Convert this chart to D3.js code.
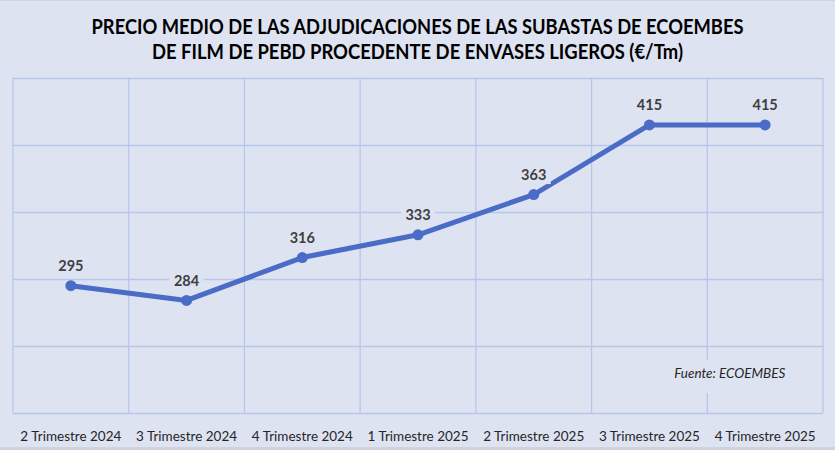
<!DOCTYPE html>
<html>
<head>
<meta charset="utf-8">
<script src="https://cdn.jsdelivr.net/npm/d3@7"></script>
<style>
  body { margin: 0; background: #dee3f2; }
  svg { display: block; }
</style>
</head>
<body>
<div id="chart"></div>
<script>
var categories = ['2 Trimestre 2024', '3 Trimestre 2024', '4 Trimestre 2024', '1 Trimestre 2025',
                  '2 Trimestre 2025', '3 Trimestre 2025', '4 Trimestre 2025'];
var prices = [295, 284, 316, 333, 363, 415, 415];
var yTicks = [200, 250, 300, 350, 400, 450];
var titleLines = ['PRECIO MEDIO DE LAS ADJUDICACIONES DE LAS SUBASTAS DE ECOEMBES',
                  'DE FILM DE PEBD PROCEDENTE DE ENVASES LIGEROS (€/Tm)'];
var source = 'Fuente: ECOEMBES';

var svgWidth = 835,
    svgHeight = 450;
var margin = {top: 78, right: 12, bottom: 37, left: 13};
var plotW = svgWidth - margin.left - margin.right,
    plotH = svgHeight - margin.top - margin.bottom;

var font = 'Lato, "Open Sans", sans-serif';
var gridColor = '#b7c7e8';
var lineColor = '#4a6bc6';

var svg = d3.select('#chart').append('svg')
    .attr('width', svgWidth)
    .attr('height', svgHeight)
    .style('background', '#dee3f2');

// thin frame top & bottom
svg.append('line').attr('x1', 0).attr('x2', svgWidth).attr('y1', 0.5).attr('y2', 0.5)
    .attr('stroke', '#cfd3dc');
svg.append('line').attr('x1', 0).attr('x2', svgWidth).attr('y1', svgHeight - 1.5).attr('y2', svgHeight - 1.5)
    .attr('stroke', '#cfd3dc').attr('stroke-width', 3);

// title (condensed look: big glyphs squeezed to the measured widths)
var titleWidths = [652, 531];
svg.selectAll('.title').data(titleLines).enter().append('text')
    .attr('class', 'title')
    .attr('x', svgWidth / 2)
    .attr('y', function(d, i) { return 34 + i * 25; })
    .attr('text-anchor', 'middle')
    .attr('font-family', font)
    .attr('font-weight', 'bold')
    .attr('font-size', '20px')
    .attr('fill', '#000')
    .attr('textLength', function(d, i) { return titleWidths[i]; })
    .attr('lengthAdjust', 'spacingAndGlyphs')
    .text(function(d) { return d; });

var g = svg.append('g').attr('transform', 'translate(' + margin.left + ',' + margin.top + ')');

var x = d3.scaleBand().domain(categories).range([0, plotW]);
var y = d3.scaleLinear().domain([200, 450]).range([plotH, 0]);

// horizontal grid
g.append('g')
    .call(d3.axisLeft(y).tickValues(yTicks).tickSize(-plotW).tickFormat(''))
    .call(function(a) {
        a.select('.domain').remove();
        a.selectAll('line').attr('stroke', gridColor).attr('stroke-width', 1.3);
    });

// vertical grid at category boundaries
var bounds = categories.map(function(c) { return x(c); }).concat([plotW]);
g.selectAll('.vgrid').data(bounds).enter().append('line')
    .attr('class', 'vgrid')
    .attr('x1', function(d) { return d; }).attr('x2', function(d) { return d; })
    .attr('y1', 0).attr('y2', plotH)
    .attr('stroke', gridColor).attr('stroke-width', 1.3);

// x axis labels
g.append('g')
    .attr('transform', 'translate(0,' + plotH + ')')
    .call(d3.axisBottom(x).tickSize(0).tickPadding(18))
    .call(function(a) {
        a.select('.domain').remove();
        a.selectAll('text')
            .attr('font-family', font)
            .attr('font-size', '13.5px')
            .attr('fill', '#262626');
    });

// line
var line = d3.line()
    .x(function(d, i) { return x(categories[i]) + x.bandwidth() / 2; })
    .y(function(d) { return y(d); });

g.append('path')
    .datum(prices)
    .attr('d', line)
    .attr('fill', 'none')
    .attr('stroke', lineColor)
    .attr('stroke-width', 5)
    .attr('stroke-linejoin', 'round');

g.selectAll('.dot').data(prices).enter().append('circle')
    .attr('class', 'dot')
    .attr('cx', function(d, i) { return x(categories[i]) + x.bandwidth() / 2; })
    .attr('cy', function(d) { return y(d); })
    .attr('r', 5.5)
    .attr('fill', lineColor);

// data labels with background
var labels = g.selectAll('.lbl').data(prices).enter().append('g')
    .attr('class', 'lbl')
    .attr('transform', function(d, i) {
        return 'translate(' + (x(categories[i]) + x.bandwidth() / 2) + ',' + (y(d) - 14.5) + ')';
    });
labels.append('rect')
    .attr('x', -17).attr('y', -15).attr('width', 34).attr('height', 19)
    .attr('fill', '#dee3f2');
labels.append('text')
    .attr('text-anchor', 'middle')
    .attr('font-family', font)
    .attr('font-weight', 'bold')
    .attr('font-size', '14.5px')
    .attr('fill', '#404040')
    .text(function(d) { return d; });

// source note
var src = g.append('g')
    .attr('transform', 'translate(' + (x(categories[6]) - 33) + ',' + (y(250) + 32) + ')');
src.append('rect')
    .attr('x', -6).attr('y', -18).attr('width', 124).attr('height', 33)
    .attr('fill', '#dee3f2');
src.append('text')
    .attr('font-family', font)
    .attr('font-style', 'italic')
    .attr('font-size', '13px')
    .attr('fill', '#262626')
    .attr('textLength', 111)
    .attr('lengthAdjust', 'spacingAndGlyphs')
    .text(source);
</script>
</body>
</html>
